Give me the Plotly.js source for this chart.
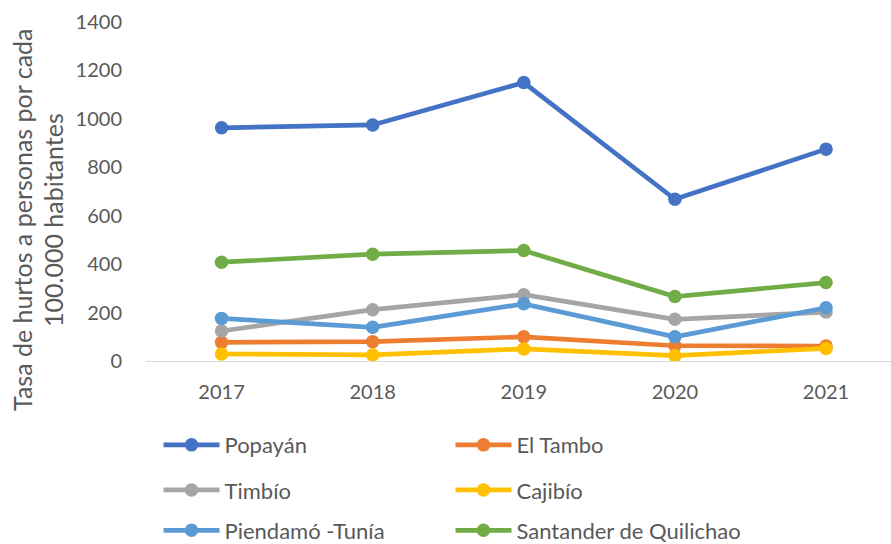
<!DOCTYPE html>
<html><head><meta charset="utf-8">
<script src="https://cdn.plot.ly/plotly-3.0.1.min.js"></script>
<style>html,body{margin:0;padding:0;background:#fff;}#chart{width:891px;height:544px;}</style>
</head><body><div id="chart"></div>
<script>
const years = ['2017','2018','2019','2020','2021'];
const popayan = [963, 975, 1150, 668, 875];
const elTambo = [77, 80, 100, 63, 62];
const timbio = [124, 212, 274, 172, 202];
const cajibio = [29, 25, 50, 22, 52];
const piendamo = [176, 139, 236, 100, 220];
const santander = [408, 441, 456, 266, 324];
const names = ['Popayán','El Tambo','Timbío','Cajibío','Piendamó -Tunía','Santander de Quilichao'];
const colors = ['#4472C4','#ED7D31','#A5A5A5','#FFC000','#5B9BD5','#70AD47'];
const series = [popayan, elTambo, timbio, cajibio, piendamo, santander];
const yTitleLines = ['Tasa de hurtos a personas por cada', '100.000 habitantes'];

const FONT = 'Lato, "Open Sans", sans-serif';
const legendKeys = ['legend','legend2','legend3','legend4','legend5','legend6'];
const traces = series.map((s,i)=>({
  x: years, y: s, name: names[i], type:'scatter', mode:'lines+markers',
  line:{color:colors[i], width:4.7}, marker:{color:colors[i], size:13.5},
  legend: legendKeys[i]
}));

const colX = [0.0168, 0.4087];
const rowY = [-0.248, -0.381, -0.5];
const layout = {
  width:891, height:544,
  margin:{l:146, r:0, t:22, b:183, autoexpand:false},
  paper_bgcolor:'#fff', plot_bgcolor:'#fff',
  showlegend:true,
  xaxis:{type:'category', range:[-0.5,4.43], showgrid:false, zeroline:false, showline:true, linecolor:'#D9D9D9', linewidth:1,
    ticks:'outside', ticklen:13, tickcolor:'rgba(0,0,0,0)', tickfont:{family:FONT, size:20, color:'#595959'}},
  yaxis:{range:[0,1400], dtick:200, showgrid:false, zeroline:false, showline:false,
    ticks:'outside', ticklen:19, tickcolor:'rgba(0,0,0,0)', tickfont:{family:FONT, size:20, color:'#595959'}},
  annotations: yTitleLines.map((t,i)=>({
    text:t, xref:'paper', yref:'paper', x:[-0.1664,-0.1248][i], y:0.416, xanchor:'center', yanchor:'middle',
    textangle:-90, showarrow:false, font:{family:FONT, size:25, color:'#595959'}
  }))
};
legendKeys.forEach((k,i)=>{
  layout[k] = {orientation:'v', xref:'paper', yref:'paper', x:colX[i%2], y:rowY[Math.floor(i/2)],
    xanchor:'left', yanchor:'middle', itemwidth:56,
    font:{family:FONT, size:22, color:'#595959'}, bgcolor:'rgba(0,0,0,0)'};
});
Plotly.newPlot('chart', traces, layout, {displayModeBar:false, staticPlot:true});
</script></body></html>
